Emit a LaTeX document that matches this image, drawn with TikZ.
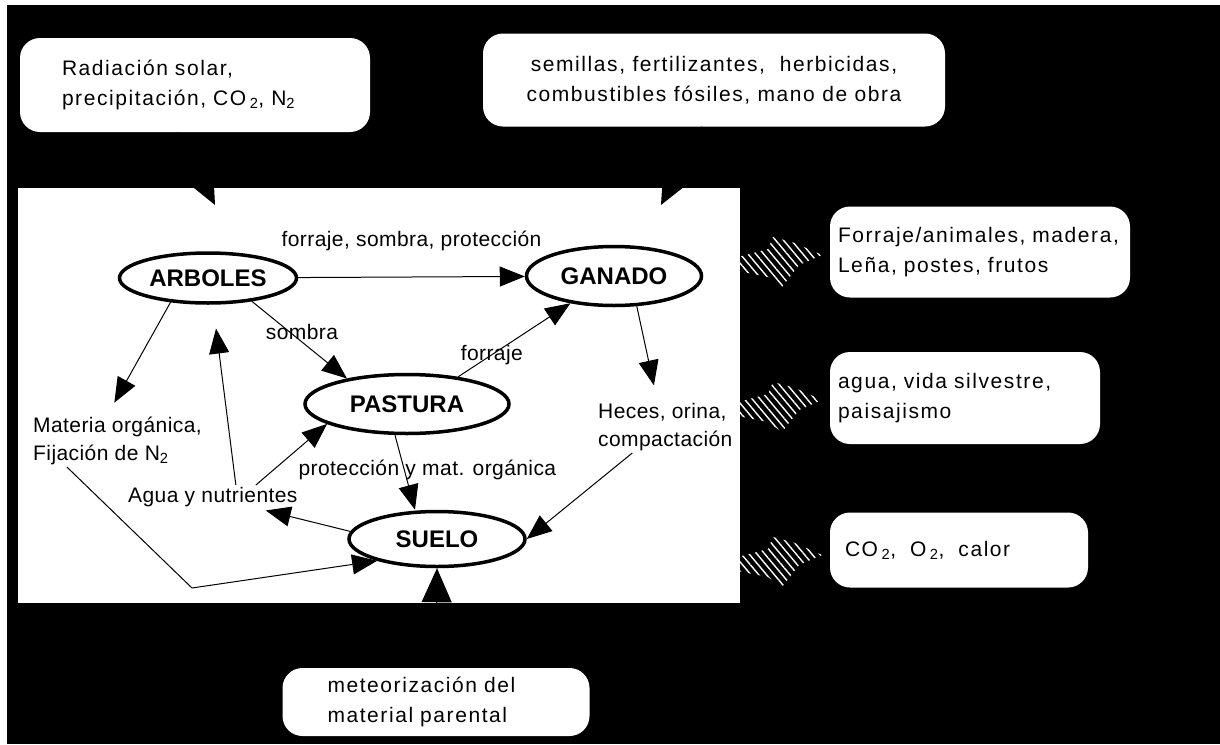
\documentclass[tikz,border=0pt]{standalone}
\usepackage{fontspec}
\setmainfont{Liberation Sans}
\newfontfamily\etiq[LetterSpace=2]{Liberation Sans}
\newfontfamily\globo[LetterSpace=7.5]{Liberation Sans}
\usetikzlibrary{shapes.geometric,arrows.meta,patterns.meta}

\begin{document}
\begin{tikzpicture}[x=1pt, y=-1pt,
    caja/.style={fill=white, rounded corners=20pt, inner ysep=0pt, align=left,
      font={\globo\fontsize{21}{30}\selectfont}},
    ovalo/.style={draw, ellipse, line width=3.5pt, fill=white, inner sep=0pt,
      font={\fontsize{24}{28}\selectfont\bfseries}},
    texto/.style={inner sep=2pt, align=left, font={\etiq\fontsize{21}{28}\selectfont}},
    flecha/.style={-{Triangle[length=25pt, width=20pt]}, line width=1pt},
    flechagrande/.style={-{Triangle[length=34pt, width=30pt]}, line width=1pt}]

            % fondo y sistema
            \fill[white] (0,0) rectangle (1220,744);
            \fill[black] (7,5) rectangle (1220,744);
            \fill[white] (18,188) rectangle (740,603);

            % entradas y salidas
            \node[caja, minimum width=350pt, minimum height=94pt, text width=266pt, inner xsep=42pt]
                (entradas) at (195,85) {Radiación solar,\\precipitación, CO\,\textsubscript{2}, N\textsubscript{2}};
            \node[caja, minimum width=462pt, minimum height=93pt, align=center]
                (insumos) at (714,80) {semillas, fertilizantes,\ \ herbicidas,\\combustibles fósiles, mano de obra};
            \node[caja, minimum width=300pt, minimum height=91pt, text width=284pt, inner xsep=8pt]
                (productos) at (980,252) {Forraje/animales, madera,\\Leña, postes, frutos};
            \node[caja, minimum width=270pt, minimum height=92pt, text width=254pt, inner xsep=8pt]
                (servicios) at (965,398) {agua, vida silvestre,\\paisajismo};
            \node[caja, minimum width=258pt, minimum height=75pt, text width=228pt, inner xsep=15pt]
                (gases) at (959,550) {CO\,\textsubscript{2}, \ O\,\textsubscript{2}, \ calor};
            \node[caja, minimum width=307pt, minimum height=68pt, text width=217pt, inner xsep=45pt]
                (meteor) at (436,702) {meteorización del\\material parental};

            \foreach \y in {257,402,557}{
                \fill[pattern={Lines[angle=-50, distance=6pt, line width=1.4pt]}, pattern color=white]
                    (738,\y) -- ++(30,-8) -- ++(5,-12) -- ++(22,6) -- ++(27,12) -- ++(-23,10)
                    -- ++(-17,22) -- ++(-14,-10) -- ++(-30,-6) -- cycle;
            }

            % componentes
            \node[ovalo, minimum width=177pt, minimum height=50pt] (arboles) at (208,278) {ARBOLES};
            \node[ovalo, minimum width=175pt, minimum height=59pt] (ganado) at (614,276) {GANADO};
            \node[ovalo, minimum width=204pt, minimum height=59pt] (pastura) at (407,404) {PASTURA};
            \node[ovalo, minimum width=176pt, minimum height=55pt] (suelo) at (437,539) {SUELO};

            \node[texto, anchor=west] (materia) at (31,441) {Materia orgánica,\\Fijación de N\textsubscript{2}};
            \node[texto, anchor=west] (agua) at (126,497) {Agua y nutrientes};
            \node[texto, anchor=west] (heces) at (596,427) {Heces, orina,\\compactación};
            \coordinate (codo) at (192,588);
            \coordinate (pe1) at (215,205);
            \coordinate (pe2) at (661,205);

            % flujos
            \draw[flecha] (arboles) -- node[above=24pt, texto] (lforraje) {forraje, sombra, protección} (ganado);
            \draw[flecha, shorten >=14pt] (arboles.213) -- ([xshift=-10pt]materia.north);
            \draw[flecha] (arboles.-28) -- node[pos=.4, xshift=12pt, texto] (lsombra) {sombra} (pastura.157);
            \draw[flecha, shorten >=24pt] ([xshift=23pt]agua.north) -- ([xshift=5pt]arboles.south);
            \draw[flecha] ([xshift=43pt]agua.north) -- (pastura.194);
            \draw[flecha, shorten >=6pt] (suelo.175) -- ([xshift=47pt]agua.south);
            \draw[flecha] ([xshift=36pt]materia.south west) -- (codo) -- (suelo.200);
            \draw[flecha] ([xshift=-12pt]pastura.south) -- node[pos=.47, xshift=23pt, texto] (lproteccion) {protección y mat. orgánica} ([xshift=-22pt]suelo.north);
            \draw[flecha] (pastura.28) -- node[pos=.3, texto] (lpastoreo) {forraje} (ganado.212);
            \draw[flecha, shorten >=16pt] (ganado.-53) -- ([xshift=-8pt]heces.north);
            \draw[flecha] ([xshift=-33pt]heces.south) -- (suelo.east);

            \draw[flechagrande] ([xshift=-17pt]entradas.south) -- (pe1);
            \draw[flechagrande] ([xshift=-12pt]insumos.south) -- (pe2);
            \draw[flechagrande] (meteor.north) -- (suelo.south);
        \end{tikzpicture}
\end{document}
